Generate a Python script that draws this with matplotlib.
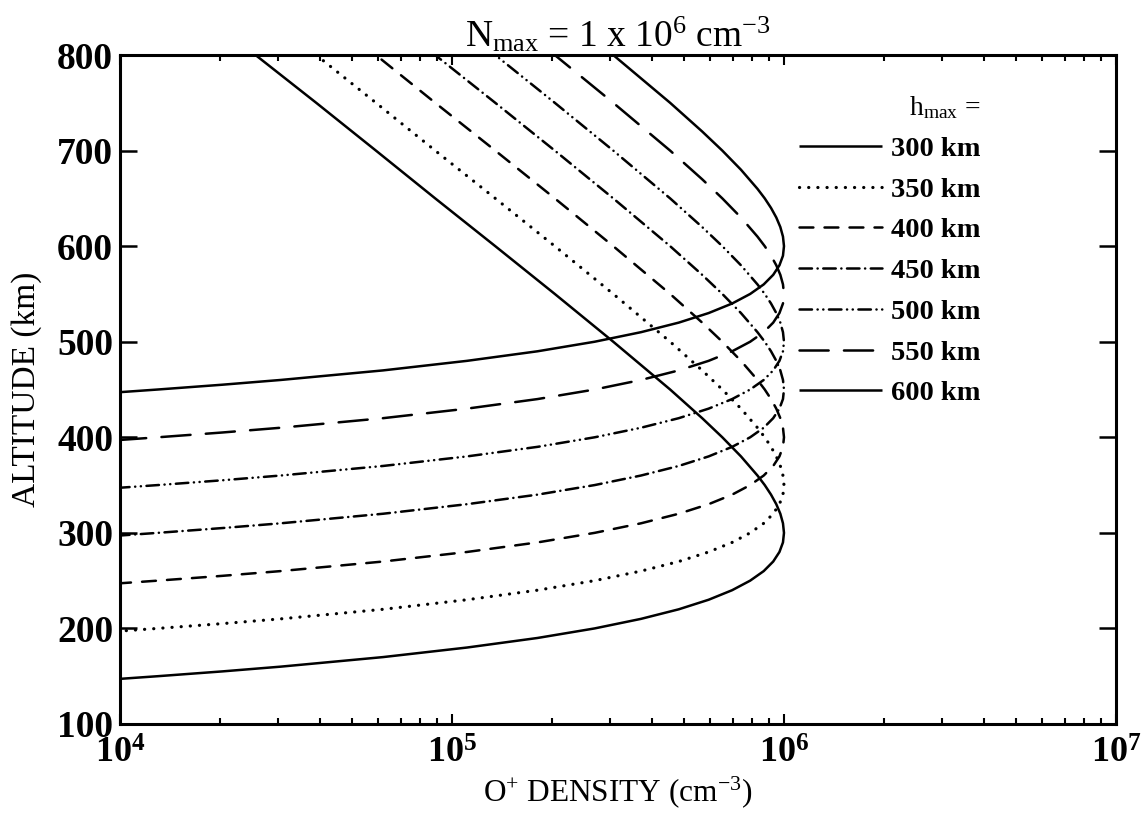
import math
import matplotlib
matplotlib.use('Agg')
import matplotlib.pyplot as plt
from matplotlib.ticker import FixedLocator, LogLocator, FuncFormatter, NullFormatter

plt.rcParams['font.family'] = ['Liberation Serif', 'DejaVu Serif']
plt.rcParams['mathtext.fontset'] = 'custom'
plt.rcParams['mathtext.rm'] = 'Liberation Serif'
plt.rcParams['mathtext.it'] = 'Liberation Serif:italic'
plt.rcParams['mathtext.bf'] = 'Liberation Serif:bold'
plt.rcParams['lines.scale_dashes'] = False

# O+ density (cm^-3) along each profile, read from bottom (1e4) up through the peak
density = [9.8e3, 1.30e4, 2.03e4, 3.05e4, 6.20e4, 1.11e5, 1.81e5, 2.69e5, 3.71e5,
           4.82e5, 5.93e5, 6.98e5, 7.91e5, 8.69e5, 9.28e5, 9.69e5, 9.93e5, 1.00e6,
           9.93e5, 9.75e5, 9.48e5, 9.14e5, 8.75e5, 8.32e5, 7.42e5, 6.52e5, 5.67e5,
           4.54e5, 3.06e5, 2.04e5, 1.35e5, 8.9e4, 5.9e4, 3.9e4, 2.56e4]

# altitude (km) of each curve, one list per h_max
alt_300 = [147, 150, 155, 160, 170, 180, 190, 200, 210, 220, 230, 240, 250, 260, 270, 280, 290, 300,
           310, 320, 330, 340, 350, 360, 380, 400, 420, 450, 500, 550, 600, 650, 700, 750, 800]
alt_350 = [197, 200, 205, 210, 220, 230, 240, 250, 260, 270, 280, 290, 300, 310, 320, 330, 340, 350,
           360, 370, 380, 390, 400, 410, 430, 450, 470, 500, 550, 600, 650, 700, 750, 800]
alt_400 = [247, 250, 255, 260, 270, 280, 290, 300, 310, 320, 330, 340, 350, 360, 370, 380, 390, 400,
           410, 420, 430, 440, 450, 460, 480, 500, 520, 550, 600, 650, 700, 750, 800]
alt_450 = [297, 300, 305, 310, 320, 330, 340, 350, 360, 370, 380, 390, 400, 410, 420, 430, 440, 450,
           460, 470, 480, 490, 500, 510, 530, 550, 570, 600, 650, 700, 750, 800]
alt_500 = [347, 350, 355, 360, 370, 380, 390, 400, 410, 420, 430, 440, 450, 460, 470, 480, 490, 500,
           510, 520, 530, 540, 550, 560, 580, 600, 620, 650, 700, 750, 800]
alt_550 = [397, 400, 405, 410, 420, 430, 440, 450, 460, 470, 480, 490, 500, 510, 520, 530, 540, 550,
           560, 570, 580, 590, 600, 610, 630, 650, 670, 700, 750, 800]
alt_600 = [447, 450, 455, 460, 470, 480, 490, 500, 510, 520, 530, 540, 550, 560, 570, 580, 590, 600,
           610, 620, 630, 640, 650, 660, 680, 700, 720, 750, 800]

labels = ['300 km', '350 km', '400 km', '450 km', '500 km', '550 km', '600 km']
altitudes = [alt_300, alt_350, alt_400, alt_450, alt_500, alt_550, alt_600]
dashes = [None, (0.1, 6.5), (10, 8), (9, 4, 0.1, 4), (9, 4, 0.1, 4, 0.1, 4), (21, 11), None]
widths = [1.8, 2.3, 1.8, 1.8, 1.8, 1.8, 1.8]

fig = plt.figure(figsize=(11.42, 8.13), dpi=100)
ax = fig.add_axes([0.1051, 0.1095, 0.8721, 0.8228])

for lab, alt, ds, lw in zip(labels, altitudes, dashes, widths):
    line, = ax.plot(density[:len(alt)], alt, color='black', lw=lw, label=lab,
                    dash_capstyle='round', solid_capstyle='butt')
    if ds is not None:
        line.set_dashes(ds)

ax.set_xscale('log')
ax.set_xlim(1e4, 1e7)
ax.set_ylim(100, 800)

ax.yaxis.set_major_locator(FixedLocator(range(100, 801, 100)))
ax.xaxis.set_major_locator(LogLocator(base=10))
ax.xaxis.set_minor_locator(LogLocator(base=10, subs=range(2, 10)))
ax.xaxis.set_minor_formatter(NullFormatter())
ax.xaxis.set_major_formatter(FuncFormatter(
    lambda v, p: r'$\mathbf{10^{%d}}$' % round(math.log10(v))))

ax.tick_params(axis='y', which='major', direction='in', length=12, width=1.8,
               left=True, right=True, labelsize=27, pad=5)
ax.tick_params(axis='x', which='major', direction='in', length=7, width=1.5,
               bottom=True, top=True, labelsize=26, pad=10)
ax.tick_params(axis='x', which='minor', direction='in', length=4, width=1.5,
               bottom=True, top=True)
for t in ax.get_yticklabels():
    t.set_fontweight('bold')
for s in ax.spines.values():
    s.set_linewidth(2.2)

ax.set_title(r'N$_{\rm max}$ = 1 x 10$^{6}$ cm$^{-3}$', fontsize=27, pad=4)
ax.set_xlabel(r'O$^{+}$ DENSITY (cm$^{-3}$)', fontsize=22.5, labelpad=2)
ax.set_ylabel('ALTITUDE (km)', fontsize=24, labelpad=11)

leg = ax.legend(loc='upper left', bbox_to_anchor=(0.6997, 0.884),
                bbox_transform=fig.transFigure, frameon=False,
                title=r'h$_{\rm max}$ =', alignment='right',
                prop={'size': 20.5, 'weight': 'bold'}, title_fontsize=20,
                handlelength=2.9, handletextpad=0.33, labelspacing=0.52,
                borderpad=0, borderaxespad=0)

fig.savefig('out.png', dpi=100)
